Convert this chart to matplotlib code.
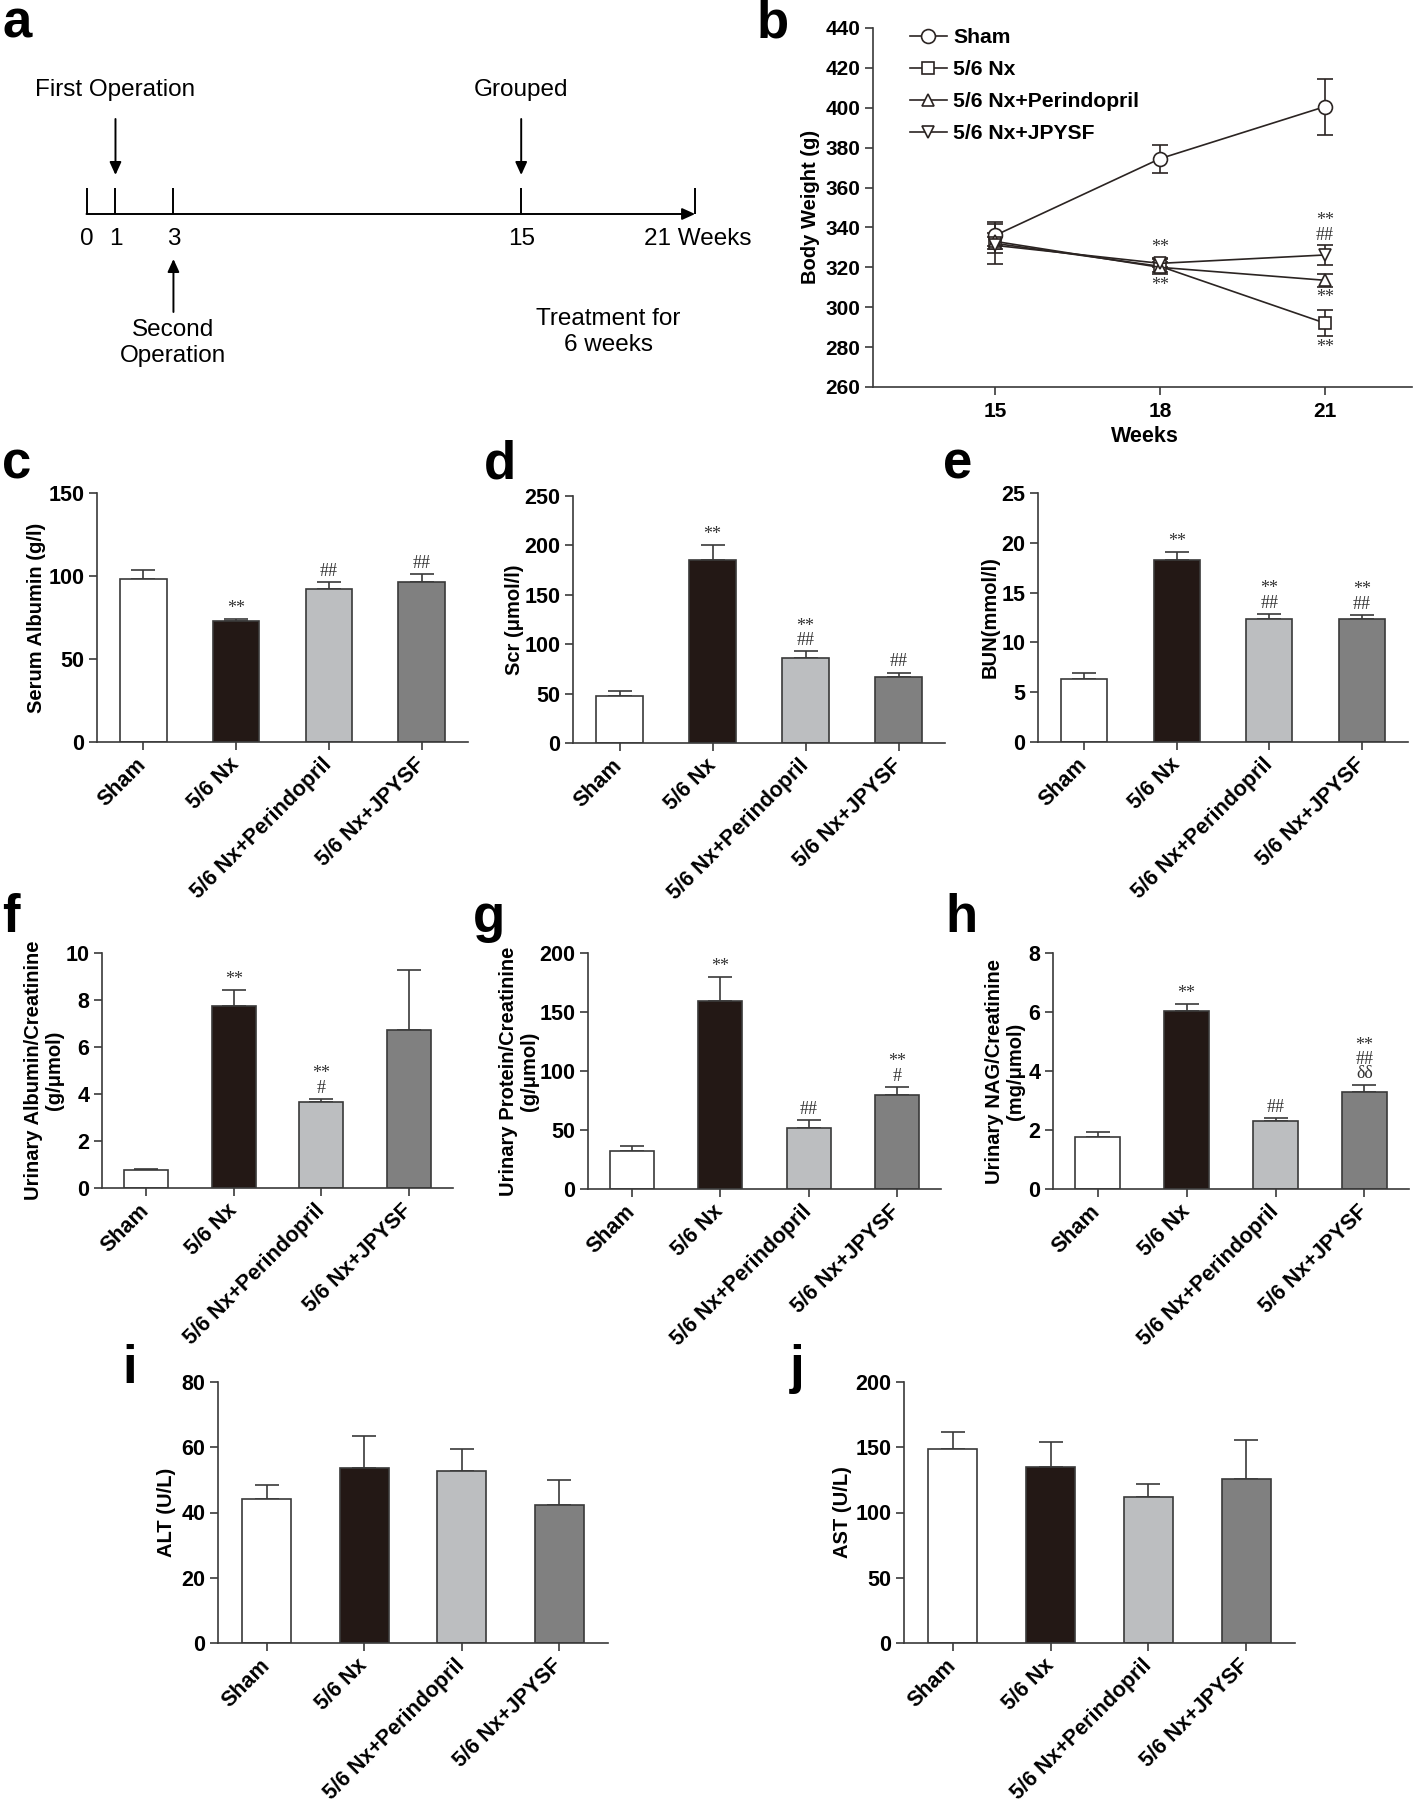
import numpy as np
import matplotlib
matplotlib.use('Agg')
import matplotlib.pyplot as plt
from matplotlib.lines import Line2D

# ---- data ----
groups = ['Sham', '5/6 Nx', '5/6 Nx+Perindopril', '5/6 Nx+JPYSF']

# timeline (panel a), in weeks
timeline_weeks = [0, 1, 3, 15, 21]

# body weight (panel b)
weeks = [15, 18, 21]
sham_bw = [336, 374.5, 400.6]
sham_bw_err = [5.5, 7, 14]
nx_bw = [332, 320.5, 292]
nx_bw_err = [10.5, 4, 6.6]
per_bw = [333, 320, 313.5]
per_bw_err = [4, 2.5, 3.2]
jp_bw = [331, 322, 326.2]
jp_bw_err = [4, 2, 5]

albumin = [98.4, 72.7, 92.4, 96.2]
albumin_err = [5.4, 1.4, 4.0, 5.0]
scr = [47.1, 185.7, 86.1, 67.0]
scr_err = [5.7, 14.5, 6.8, 4.3]
bun = [6.34, 18.29, 12.32, 12.32]
bun_err = [0.57, 0.8, 0.57, 0.47]
u_alb = [0.76, 7.73, 3.66, 6.74]
u_alb_err = [0.05, 0.68, 0.13, 2.52]
u_prot = [32.3, 158.9, 51.8, 79.9]
u_prot_err = [4.2, 20.4, 6.8, 6.8]
u_nag = [1.76, 6.02, 2.31, 3.30]
u_nag_err = [0.18, 0.25, 0.10, 0.24]
alt = [44.1, 53.7, 52.7, 42.3]
alt_err = [4.2, 9.7, 6.7, 7.6]
ast = [148.7, 134.6, 111.9, 125.9]
ast_err = [13.0, 19.2, 9.7, 29.4]

# significance marks
albumin_marks = [None, '**', '##', '##']
scr_marks = [None, '**', '**\n##', '##']
bun_marks = [None, '**', '**\n##', '**\n##']
u_alb_marks = [None, '**', '**\n#', None]
u_prot_marks = [None, '**', '##', '**\n#']
u_nag_marks = [None, '**', '##', '**\n##\nδδ']

# ---- style ----
W, H = 1418, 1807
plt.rcParams['font.family'] = ['Liberation Sans', 'DejaVu Sans']
plt.rcParams['font.weight'] = 'bold'

dark = '#2b2422'
edge = '#3a3a3a'
bar_colors = ['white', '#231815', '#bcbec0', '#808080']
serif = ['Liberation Serif', 'DejaVu Serif']

fig = plt.figure(figsize=(W / 100, H / 100), dpi=100)


def px_axes(left, top, right, bottom):
    return fig.add_axes([left / W, 1 - bottom / H, (right - left) / W, (bottom - top) / H])


def fig_text(x, y, s, **kw):
    return fig.text(x / W, 1 - y / H, s, **kw)


def panel_label(x, y, s):
    fig_text(x, y, s, fontsize=38, fontweight='bold', va='baseline', ha='left')


def style_axes(ax, labelsize=15.5):
    for s in ['top', 'right']:
        ax.spines[s].set_visible(False)
    for s in ['left', 'bottom']:
        ax.spines[s].set_color(edge)
        ax.spines[s].set_linewidth(1.2)
    ax.tick_params(direction='out', length=6, width=1.2, color=edge, labelsize=labelsize, pad=3)
    for t in ax.get_yticklabels():
        t.set_fontweight('bold')


def bar_panel(box, vals, errs, ylim, yticks, ylabel, ylabel_x, marks=None, xfont=14.5):
    ax = px_axes(*box)
    x = np.arange(len(groups))
    ax.errorbar(x, vals, yerr=[np.zeros(len(vals)), errs], fmt='none', ecolor=edge,
                elinewidth=1.2, capsize=8.3, capthick=1.2, zorder=1)
    ax.bar(x, vals, width=0.5, color=bar_colors, edgecolor=edge, linewidth=1.2, zorder=2)
    ax.set_xlim(-0.5, 3.5)
    ax.set_ylim(*ylim)
    ax.set_yticks(yticks)
    ax.set_xticks(x)
    ax.set_xticklabels(groups, rotation=45, ha='right', va='center', rotation_mode='anchor',
                       fontsize=xfont, fontweight='bold')
    style_axes(ax)
    ax.tick_params(axis='x', pad=8)
    cy = (box[1] + box[3]) / 2
    fig_text(ylabel_x, cy, ylabel, rotation=90, ha='center', va='center', fontsize=14.5,
             fontweight='bold', linespacing=1.1, multialignment='center')
    if marks:
        for i, m in enumerate(marks):
            if m:
                ax.annotate(m, xy=(i, vals[i] + errs[i]), xytext=(0, 1.5), textcoords='offset points',
                            ha='center', va='bottom', fontsize=13, fontweight='normal',
                            family=serif, color='#333333', linespacing=0.8)
    return ax


# ---- panel a: timeline ----
ax_a = px_axes(0, 50, 780, 420)
px_per_week = 28.98
ax_a.set_xlim(-86.5 / px_per_week, (780 - 86.5) / px_per_week)
ax_a.set_ylim(420, 50)
ax_a.axis('off')
arrow = dict(arrowstyle='-|>,head_length=0.55,head_width=0.25', color='black', lw=1.4,
             mutation_scale=14, shrinkA=0, shrinkB=0)
ax_a.annotate('', xy=(timeline_weeks[-1], 214), xytext=(timeline_weeks[0], 214), arrowprops=arrow)
ax_a.vlines(timeline_weeks, 188, 214, color='black', lw=1.4)
tl_font = dict(fontweight='normal', fontsize=17.5)
for w in timeline_weeks[:-1]:
    ax_a.text(w, 239, str(w), ha='center', va='center', **tl_font)
ax_a.text(timeline_weeks[-1] + 0.1, 239, '21 Weeks', ha='center', va='center', **tl_font)
ax_a.annotate('', xy=(1, 175), xytext=(1, 119), arrowprops=arrow)
ax_a.annotate('', xy=(15, 175), xytext=(15, 119), arrowprops=arrow)
ax_a.annotate('', xy=(3, 259), xytext=(3, 312), arrowprops=arrow)
ax_a.text(1, 90, 'First Operation', ha='center', va='center', **tl_font)
ax_a.text(15, 90, 'Grouped', ha='center', va='center', **tl_font)
ax_a.text(3, 343, 'Second\nOperation', ha='center', va='center', linespacing=1.25, **tl_font)
ax_a.text(18, 332, 'Treatment for\n6 weeks', ha='center', va='center', linespacing=1.25, **tl_font)
panel_label(2, 38, 'a')

# ---- panel b: body weight ----
ax_b = px_axes(873, 28, 1412, 387)
series = [(sham_bw, sham_bw_err, 'o', 10, 'Sham'),
          (nx_bw, nx_bw_err, 's', 8, '5/6 Nx'),
          (per_bw, per_bw_err, '^', 9, '5/6 Nx+Perindopril'),
          (jp_bw, jp_bw_err, 'v', 9, '5/6 Nx+JPYSF')]
handles = []
for vals, errs, mk, ms, lab in series:
    ax_b.errorbar(weeks, vals, yerr=errs, marker=mk, ms=ms, mfc='white', mec=dark, mew=1.2,
                  color=dark, lw=1.2, elinewidth=1.2, capsize=5.8, capthick=1.2)
    handles.append(Line2D([], [], marker=mk, ms=ms, mfc='white', mec=dark, mew=1.2,
                          color=dark, lw=1.2, label=lab))
ax_b.set_xlim(12.78, 22.58)
ax_b.set_ylim(260, 440)
ax_b.set_yticks(np.arange(260, 441, 20))
ax_b.set_xticks(weeks)
style_axes(ax_b, labelsize=15)
for t in ax_b.get_xticklabels():
    t.set_fontweight('bold')
ax_b.tick_params(axis='x', pad=5)
fig_text(810, 207, 'Body Weight (g)', rotation=90, ha='center', va='center', fontsize=14.5, fontweight='bold')
fig_text(1145, 436, 'Weeks', ha='center', va='center', fontsize=15.5, fontweight='bold')
leg = ax_b.legend(handles=handles, loc='upper left', bbox_to_anchor=(910 / W, 1 - 28 / H),
                  bbox_transform=fig.transFigure, frameon=False, prop=dict(weight='bold', size=15.2),
                  handlelength=1.75, handletextpad=0.3, labelspacing=0.62, borderpad=0, borderaxespad=0)
mk_font = dict(ha='center', fontsize=13, fontweight='normal', family=serif, color='#333333',
               textcoords='offset points', linespacing=0.8)
i18 = weeks.index(18)
i21 = weeks.index(21)
top18 = max(v[i18] + e[i18] for v, e, *_ in series[1:])
bot18 = min(v[i18] - e[i18] for v, e, *_ in series[1:])
ax_b.annotate('**', xy=(18, top18), xytext=(0, 2), va='bottom', **mk_font)
ax_b.annotate('**', xy=(18, bot18), xytext=(0, -2), va='top', **mk_font)
ax_b.annotate('**\n##', xy=(21, jp_bw[i21] + jp_bw_err[i21]), xytext=(0, 1), va='bottom', **mk_font)
ax_b.annotate('**', xy=(21, per_bw[i21] - per_bw_err[i21]), xytext=(0, -2), va='top', **mk_font)
ax_b.annotate('**', xy=(21, nx_bw[i21] - nx_bw_err[i21]), xytext=(0, -2), va='top', **mk_font)
panel_label(757, 38, 'b')

# ---- row 2 ----
bar_panel((97, 493, 468, 742), albumin, albumin_err, (0, 150), [0, 50, 100, 150],
          'Serum Albumin (g/l)', 37, albumin_marks)
panel_label(2, 478, 'c')
bar_panel((573, 496, 945, 743), scr, scr_err, (0, 250), [0, 50, 100, 150, 200, 250],
          'Scr (μmol/l)', 515, scr_marks)
panel_label(484, 478, 'd')
bar_panel((1038, 493, 1408, 742), bun, bun_err, (0, 25), [0, 5, 10, 15, 20, 25],
          'BUN(mmol/l)', 990, bun_marks)
panel_label(943, 478, 'e')

# ---- row 3 ----
bar_panel((102, 953, 453, 1188), u_alb, u_alb_err, (0, 10), [0, 2, 4, 6, 8, 10],
          'Urinary Albumin/Creatinine\n(g/μmol)', 44, u_alb_marks)
panel_label(2, 932, 'f')
bar_panel((588, 953, 941, 1189), u_prot, u_prot_err, (0, 200), [0, 50, 100, 150, 200],
          'Urinary Protein/Creatinine\n(g/μmol)', 519, u_prot_marks)
panel_label(473, 932, 'g')
bar_panel((1053, 953, 1409, 1189), u_nag, u_nag_err, (0, 8), [0, 2, 4, 6, 8],
          'Urinary NAG/Creatinine\n(mg/μmol)', 1005, u_nag_marks)
panel_label(945, 932, 'h')

# ---- row 4 ----
bar_panel((218, 1382, 608, 1643), alt, alt_err, (0, 80), [0, 20, 40, 60, 80],
          'ALT (U/L)', 167, xfont=16)
panel_label(122, 1383, 'i')
bar_panel((904, 1382, 1295, 1643), ast, ast_err, (0, 200), [0, 50, 100, 150, 200],
          'AST (U/L)', 843, xfont=16)
panel_label(790, 1383, 'j')

fig.savefig('out.png', dpi=100, facecolor='white')
